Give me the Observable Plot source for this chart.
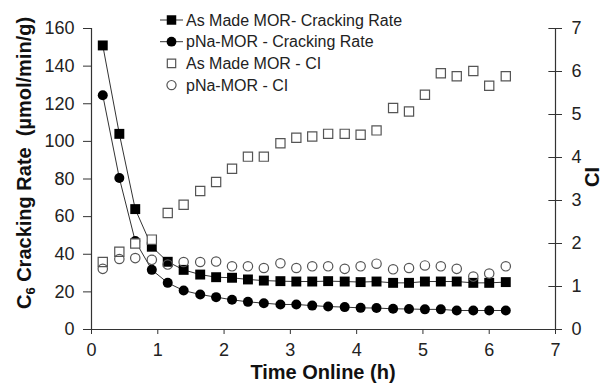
<!DOCTYPE html>
<html><head><meta charset="utf-8">
<script src="https://cdn.jsdelivr.net/npm/d3@7"></script>
<script src="https://cdn.jsdelivr.net/npm/@observablehq/plot@0.6"></script>
<style>body{margin:0;background:#fff} #chart{width:604px;height:384px}</style>
</head><body><div id="chart"></div>
<script>
// Time on stream (h)
const time = [0.17,0.42,0.66,0.91,1.15,1.39,1.64,1.88,2.12,2.36,2.60,2.85,3.09,3.33,3.57,3.82,4.06,4.30,4.55,4.79,5.03,5.27,5.51,5.76,6.00,6.25];
// C6 cracking rate (umol/min/g)
const asMadeRate = [151,104,64,44,36,31.7,29.2,27.8,27.5,26.6,26,25.7,25.5,25.5,25.7,25.5,25.2,25.5,24.8,24.8,25.5,25.5,25.5,24.8,24.8,25.2];
const pNaRate = [124.5,80.5,47,31.7,24.8,20.7,18.6,17.2,15.8,14.7,14,13.3,13.3,12.7,12.2,11.9,11.5,11.4,11,10.9,10.7,10.7,10.1,10.1,10.1,10.1];
// CI (right axis)
const asMadeCI = [1.57,1.81,2.0,2.09,2.71,2.90,3.22,3.43,3.74,4.02,4.02,4.33,4.46,4.49,4.55,4.55,4.53,4.63,5.15,5.07,5.46,5.96,5.89,6.01,5.67,5.89];
const pNaCI = [1.41,1.64,1.66,1.62,1.51,1.57,1.57,1.58,1.47,1.47,1.43,1.54,1.43,1.47,1.47,1.41,1.47,1.53,1.40,1.43,1.49,1.47,1.41,1.23,1.30,1.47];
// Tick labels
const timeTicks = [0,1,2,3,4,5,6,7];
const rateTicks = [0,20,40,60,80,100,120,140,160];
const ciTicks = [0,1,2,3,4,5,6,7];
const seriesNames = ["As Made MOR- Cracking Rate","pNa-MOR - Cracking Rate","As Made MOR - CI","pNa-MOR - CI"];

const rateMax = 160, ciMax = 7, k = rateMax / ciMax;
const rows = time.map((t, i) => ({t, am: asMadeRate[i], pn: pNaRate[i], amci: asMadeCI[i] * k, pnci: pNaCI[i] * k}));

const FONT = "'Liberation Sans', Arial, sans-serif";
const INK = "#222";

function legendMark() {
  const g = d3.create("svg:g").attr("font-family", FONT).attr("font-size", 16).attr("fill", INK).attr("text-anchor", "start");
  const items = [
    {sym: d3.symbolSquare, size: 90, fill: "#000", stroke: "none", line: true},
    {sym: d3.symbolCircle, size: 75, fill: "#000", stroke: "none", line: true},
    {sym: d3.symbolSquare, size: 70, fill: "none", stroke: "#555", line: false},
    {sym: d3.symbolCircle, size: 66, fill: "none", stroke: "#555", line: false}
  ];
  items.forEach((it, i) => {
    const y = 20 + i * 21.7;
    if (it.line) g.append("line").attr("x1", 160).attr("x2", 183).attr("y1", y).attr("y2", y).attr("stroke", "#333").attr("stroke-width", 1);
    g.append("path").attr("d", d3.symbol(it.sym, it.size)()).attr("transform", `translate(171.5,${y})`)
      .attr("fill", it.fill).attr("stroke", it.stroke).attr("stroke-width", 1.2);
    g.append("text").attr("x", 186).attr("y", y).attr("dy", "0.35em").attr("text-anchor", "start").text(seriesNames[i]);
  });
  return g.node();
}

function titlesMark() {
  const g = d3.create("svg:g").attr("font-family", FONT).attr("fill", "#111").attr("font-weight", "bold").attr("font-size", 20);
  const t = g.append("text").attr("transform", "translate(24,163) rotate(-90)").attr("text-anchor", "middle").attr("dy", "0.35em").style("white-space", "pre");
  t.append("tspan").text("C");
  t.append("tspan").attr("font-size", 13).attr("dy", "0.3em").text("6");
  t.append("tspan").attr("dy", "-0.2em").text(" Cracking Rate  (\u00b5mol/min/g)");
  g.append("text").attr("x", 323).attr("y", 372).attr("text-anchor", "middle").attr("dy", "0.35em").text("Time Online (h)");
  g.append("text").attr("transform", "translate(592,177) rotate(-90)").attr("text-anchor", "middle").attr("dy", "0.35em").text("CI");
  return g.node();
}

const chart = Plot.plot({
  width: 604, height: 384,
  marginLeft: 91, marginRight: 49, marginTop: 28, marginBottom: 55,
  style: {fontFamily: FONT, fontSize: "18px", color: INK, background: "#fff"},
  x: {domain: [0, 7]},
  y: {domain: [0, rateMax]},
  marks: [
    // axis lines
    Plot.ruleX([0], {y1: 0, y2: rateMax, stroke: "#333", strokeWidth: 1.2}),
    Plot.ruleX([7], {y1: 0, y2: rateMax, stroke: "#333", strokeWidth: 1.2}),
    Plot.ruleY([0], {x1: -0.12, x2: 7.07, stroke: "#333", strokeWidth: 1.2}),
    Plot.axisX({ticks: timeTicks, tickSize: 5, tickPadding: 9, tickFormat: d3.format("d"), label: null, stroke: "#333", fill: INK}),
    Plot.axisY({ticks: rateTicks, tickSize: 8, tickPadding: 9, tickFormat: d3.format("d"), label: null, stroke: "#333", fill: INK}),
    Plot.axisY({anchor: "right", ticks: ciTicks.map(v => v * k), tickSize: 6, tickPadding: 10, tickFormat: d => String(Math.round(d / k)), label: null, stroke: "#333", fill: INK}),
    Plot.ruleY(ciTicks.map(v => v * k), {x1: 6.9, x2: 7, stroke: "#333", strokeWidth: 1}),
    // Cracking rates (filled markers + lines)
    Plot.line(rows, {x: "t", y: "am", stroke: "#333", strokeWidth: 1}),
    Plot.dot(rows, {x: "t", y: "am", symbol: "square", r: 5.6, fill: "#000"}),
    Plot.line(rows, {x: "t", y: "pn", stroke: "#333", strokeWidth: 1}),
    Plot.dot(rows, {x: "t", y: "pn", symbol: "circle", r: 5, fill: "#000"}),
    // CI series (open markers, secondary axis drawn on top)
    Plot.dot(rows, {x: "t", y: "amci", symbol: "square", r: 5.2, stroke: "#555", strokeWidth: 1.2, fill: "#fff"}),
    Plot.dot(rows, {x: "t", y: "pnci", symbol: "circle", r: 4.7, stroke: "#555", strokeWidth: 1.2, fill: "none"}),
    legendMark,
    titlesMark
  ]
});
document.getElementById("chart").append(chart);
</script>
</body></html>
